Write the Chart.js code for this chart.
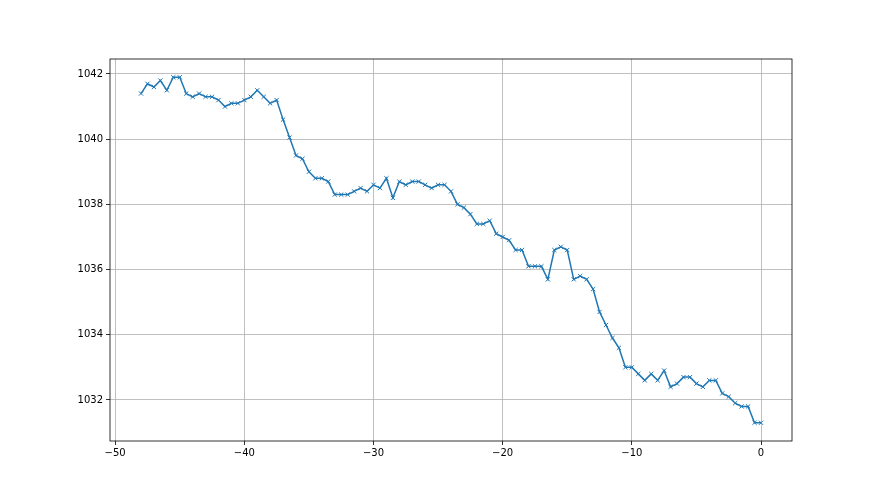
<!DOCTYPE html>
<html>
<head>
<meta charset="utf-8">
<script src="https://cdn.jsdelivr.net/npm/chart.js@4"></script>
<style>
html,body{margin:0;padding:0;background:#fff;}
#wrap{width:880px;height:495px;position:relative;}
</style>
</head>
<body>
<div id="wrap"><canvas id="c" width="880" height="495"></canvas></div>
<script>
const xValues = [-48,-47.5,-47,-46.5,-46,-45.5,-45,-44.5,-44,-43.5,-43,-42.5,-42,-41.5,-41,-40.5,-40,-39.5,-39,-38.5,-38,-37.5,-37,-36.5,-36,-35.5,-35,-34.5,-34,-33.5,-33,-32.5,-32,-31.5,-31,-30.5,-30,-29.5,-29,-28.5,-28,-27.5,-27,-26.5,-26,-25.5,-25,-24.5,-24,-23.5,-23,-22.5,-22,-21.5,-21,-20.5,-20,-19.5,-19,-18.5,-18,-17.5,-17,-16.5,-16,-15.5,-15,-14.5,-14,-13.5,-13,-12.5,-12,-11.5,-11,-10.5,-10,-9.5,-9,-8.5,-8,-7.5,-7,-6.5,-6,-5.5,-5,-4.5,-4,-3.5,-3,-2.5,-2,-1.5,-1,-0.5,0];
const yValues = [1041.4,1041.7,1041.6,1041.8,1041.5,1041.9,1041.9,1041.4,1041.3,1041.4,1041.3,1041.3,1041.2,1041.0,1041.1,1041.1,1041.2,1041.3,1041.5,1041.3,1041.1,1041.2,1040.6,1040.05,1039.5,1039.4,1039.0,1038.8,1038.8,1038.7,1038.3,1038.3,1038.3,1038.4,1038.5,1038.4,1038.6,1038.5,1038.8,1038.2,1038.7,1038.6,1038.7,1038.7,1038.6,1038.5,1038.6,1038.6,1038.4,1038.0,1037.9,1037.7,1037.4,1037.4,1037.5,1037.1,1037.0,1036.9,1036.6,1036.6,1036.1,1036.1,1036.1,1035.7,1036.6,1036.7,1036.6,1035.7,1035.8,1035.7,1035.4,1034.7,1034.3,1033.9,1033.6,1033.0,1033.0,1032.8,1032.6,1032.8,1032.6,1032.9,1032.4,1032.5,1032.7,1032.7,1032.5,1032.4,1032.6,1032.6,1032.2,1032.1,1031.9,1031.8,1031.8,1031.3,1031.3];
const xTicks = [-50,-40,-30,-20,-10,0];
const yTicks = [1032,1034,1036,1038,1040,1042];

const points = xValues.map((x,i)=>({x:x, y:yValues[i]}));

const frame = {
  id:'frame',
  afterDraw(chart){
    const {ctx, chartArea:a} = chart;
    ctx.save();
    ctx.strokeStyle = '#000';
    ctx.lineWidth = 0.8;
    ctx.strokeRect(a.left, a.top, a.right-a.left, a.bottom-a.top);
    ctx.restore();
  }
};

new Chart(document.getElementById('c'), {
  type:'line',
  data:{datasets:[{
    data: points,
    borderColor:'#1f77b4',
    borderWidth:1.5,
    pointStyle:'crossRot',
    pointRadius:3,
    pointBorderWidth:1,
    pointBorderColor:'#1f77b4',
    pointBackgroundColor:'#1f77b4',
    pointHoverRadius:3,
    tension:0,
    fill:false
  }]},
  options:{
    responsive:false,
    animation:false,
    events:[],
    layout:{padding:{left:0,right:88,top:59,bottom:0}},
    plugins:{legend:{display:false},tooltip:{enabled:false}},
    scales:{
      x:{
        type:'linear',
        min:-50.4, max:2.4,
        afterBuildTicks(s){ s.ticks = xTicks.map(v=>({value:v})); },
        afterFit(s){ s.height = 54; },
        grid:{color:'#b0b0b0', lineWidth:0.8, tickColor:'#000', tickLength:4, tickWidth:0.8},
        border:{display:false},
        ticks:{color:'#000', font:{family:'DejaVu Sans', size:10}, padding:2, maxRotation:0,
               callback:(v)=> (v<0 ? '\u2212'+Math.abs(v) : String(v))}
      },
      y:{
        type:'linear',
        min:1030.74, max:1042.46,
        afterBuildTicks(s){ s.ticks = yTicks.map(v=>({value:v})); },
        afterFit(s){ s.width = 110; },
        grid:{color:'#b0b0b0', lineWidth:0.8, tickColor:'#000', tickLength:4, tickWidth:0.8},
        border:{display:false},
        ticks:{color:'#000', font:{family:'DejaVu Sans', size:10}, padding:3,
               callback:(v)=> String(v)}
      }
    }
  },
  plugins:[frame]
});
</script>
</body>
</html>
